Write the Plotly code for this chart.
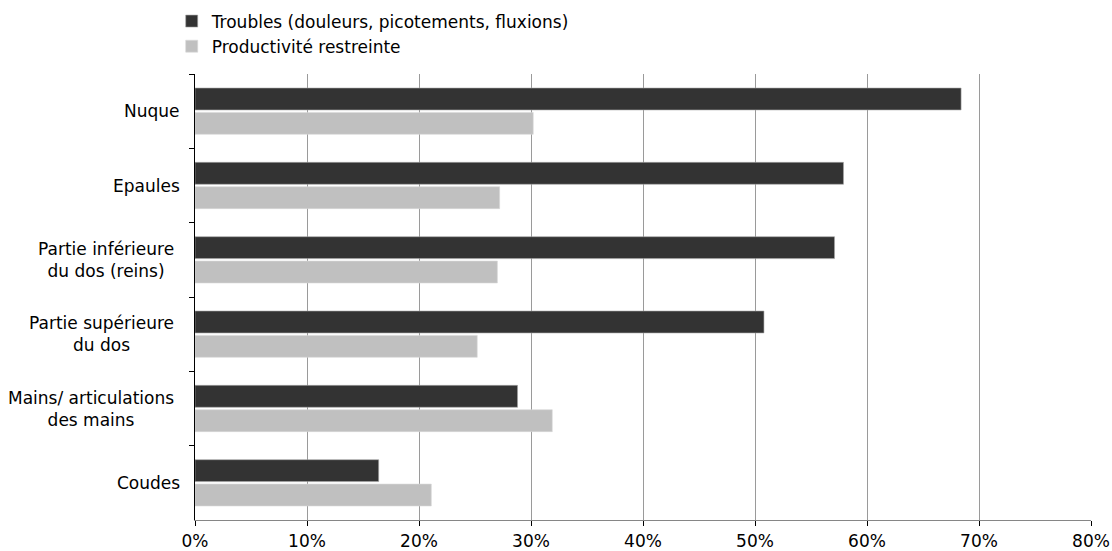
import plotly.graph_objects as go

categories = ["Nuque", "Epaules", "Partie inférieure<br>du dos (reins)",
              "Partie supérieure<br>du dos", "Mains/ articulations<br>des mains", "Coudes"]
series_names = ["Troubles (douleurs, picotements, fluxions)", "Productivité restreinte"]
troubles = [0.684, 0.579, 0.571, 0.508, 0.288, 0.164]
productivite = [0.302, 0.272, 0.270, 0.252, 0.319, 0.211]
x_ticks = [0, 0.1, 0.2, 0.3, 0.4, 0.5, 0.6, 0.7, 0.8]
x_tick_labels = ["0%", "10%", "20%", "30%", "40%", "50%", "60%", "70%", "80%"]

FONT = "DejaVu Sans"
FS = 17

fig = go.Figure()
fig.add_trace(go.Bar(y=categories, x=troubles, orientation="h", name=series_names[0],
                     marker=dict(color="#333333", line=dict(color="#a6a6a6", width=0.6))))
fig.add_trace(go.Bar(y=categories, x=productivite, orientation="h", name=series_names[1],
                     marker=dict(color="#c0c0c0", line=dict(color="#d9d9d9", width=0.6))))

for c in categories:
    fig.add_annotation(x=0, xref="paper", y=c, yref="y", text=c, showarrow=False,
                       xanchor="right", yanchor="middle", align="center",
                       xshift=-19 if "<br>" in c else -13,
                       font=dict(family=FONT, size=FS, color="#000000"))

fig.update_layout(
    width=1112, height=551,
    margin=dict(l=194.5, r=21, t=74, b=31, autoexpand=False),
    paper_bgcolor="white", plot_bgcolor="white",
    barmode="group", bargap=0.345, bargroupgap=0.1,
    font=dict(family=FONT, size=FS, color="#000000"),
    showlegend=True,
    legend=dict(x=-0.026, xanchor="left", y=1.158, yanchor="top",
                traceorder="normal", tracegroupgap=0,
                font=dict(family=FONT, size=FS, color="#000000"),
                bgcolor="rgba(0,0,0,0)", itemwidth=30),
    xaxis=dict(range=[0, 0.8], tickvals=x_ticks, ticktext=x_tick_labels,
               showgrid=True, gridcolor="#9a9a9a", gridwidth=1,
               showline=True, linecolor="#868686", linewidth=1,
               ticks="outside", ticklen=5, tickcolor="#000000",
               zeroline=False, ticklabelstandoff=1,
               tickfont=dict(family=FONT, size=FS, color="#000000")),
    yaxis=dict(autorange="reversed", showticklabels=False,
               showline=True, linecolor="#000000", linewidth=1,
               ticks="outside", ticklen=5, tickcolor="#000000",
               tickson="boundaries", showgrid=False, zeroline=False),
)

fig.write_html("out.html", config={"displayModeBar": False},
               post_script="document.body.style.margin='0';document.body.style.overflow='hidden';")
